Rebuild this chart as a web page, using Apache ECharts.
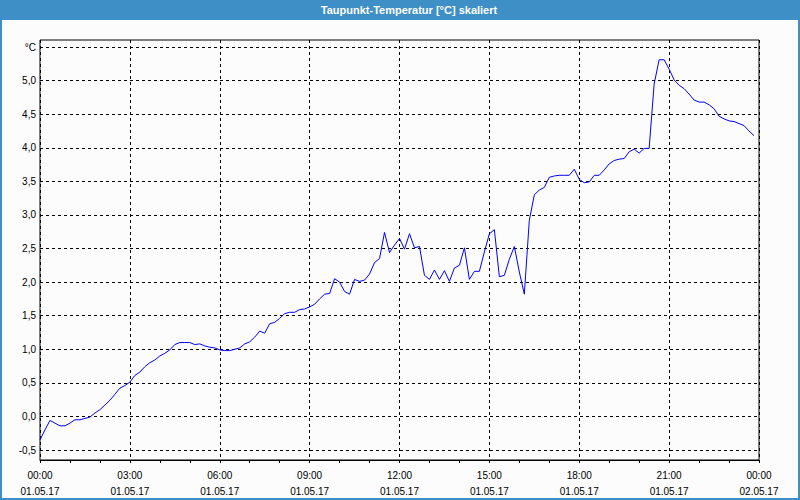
<!DOCTYPE html>
<html>
<head>
<meta charset="utf-8">
<script src="https://cdn.jsdelivr.net/npm/echarts@6.0.0/dist/echarts.min.js"></script>
<style>
html,body{margin:0;padding:0;background:#fff;}
#chart{width:800px;height:500px;}
</style>
</head>
<body>
<div id="chart"></div>
<script>
// ---- data (10-minute readings, 01.05.17 00:00 .. 23:50) ----
const stepMinutes = 10;
const dewPoint = [
  -0.35,-0.20,-0.06,-0.10,-0.14,-0.14,-0.10,-0.05,-0.05,-0.03,-0.01,0.05,
  0.10,0.17,0.24,0.33,0.42,0.46,0.51,0.61,0.66,0.74,0.80,0.84,
  0.90,0.94,0.99,1.07,1.10,1.10,1.10,1.07,1.08,1.05,1.03,1.02,
  0.99,0.98,0.98,1.00,1.02,1.08,1.11,1.18,1.27,1.24,1.38,1.40,
  1.46,1.53,1.55,1.55,1.59,1.60,1.63,1.67,1.75,1.82,1.83,2.05,
  2.00,1.86,1.82,2.04,2.01,2.03,2.12,2.29,2.35,2.74,2.44,2.55,
  2.65,2.49,2.72,2.51,2.53,2.10,2.04,2.18,2.04,2.17,2.01,2.21,
  2.25,2.51,2.04,2.16,2.16,2.45,2.72,2.78,2.08,2.10,2.34,2.53,
  2.15,1.82,2.92,3.30,3.37,3.41,3.56,3.58,3.59,3.59,3.59,3.68,
  3.53,3.48,3.49,3.59,3.59,3.67,3.76,3.81,3.83,3.84,3.94,3.98,
  3.92,3.99,3.99,4.95,5.31,5.31,5.17,5.01,4.93,4.88,4.80,4.71,
  4.68,4.68,4.64,4.58,4.47,4.43,4.40,4.39,4.36,4.33,4.25,4.18
];
const xTickTimes = ['00:00','03:00','06:00','09:00','12:00','15:00','18:00','21:00','00:00'];
const xTickDates = ['01.05.17','01.05.17','01.05.17','01.05.17','01.05.17','01.05.17','01.05.17','01.05.17','02.05.17'];
const yUnitLabel = '°C';
const titleText = 'Taupunkt-Temperatur [°C] skaliert';

// ---- build ----
const seriesData = dewPoint.map((v, i) => [i * stepMinutes, v]);
const FONT = 'Liberation Sans, Arial, sans-serif';
const dashed = {show: true, lineStyle: {color: '#000', width: 1, type: [3, 3]}};

const chart = echarts.init(document.getElementById('chart'), null, {renderer: 'svg'});
chart.setOption({
  animation: false,
  backgroundColor: '#3d8fc6',
  graphic: {elements: [
    {type: 'rect', z: -100, silent: true, shape: {x: 2, y: 20, width: 796, height: 478}, style: {fill: '#fbfcfb'}}
  ]},
  title: {
    text: titleText, left: 409, top: 4, textAlign: 'center', padding: 0,
    textStyle: {color: '#fff', fontSize: 11, fontWeight: 'bold', fontFamily: FONT}
  },
  grid: [
    {left: 40, right: 41, top: 40, height: 420, show: true, borderColor: '#000', borderWidth: 1, backgroundColor: 'transparent', containLabel: false},
    {left: 40, right: 41, top: 47, height: 403, show: false, containLabel: false}
  ],
  xAxis: [
    {
      gridIndex: 0, type: 'value', min: 0, max: 1440, interval: 180,
      axisLine: {show: true, lineStyle: {color: '#000', width: 1}},
      axisTick: {show: true, inside: false, length: 3, lineStyle: {color: '#000'}},
      minorTick: {show: true, splitNumber: 3, length: 3, lineStyle: {color: '#000'}},
      splitLine: dashed,
      axisLabel: {
        margin: 7, color: '#000', fontSize: 10, fontFamily: FONT, lineHeight: 16,
        formatter: function (v) { const i = Math.round(v / 180); return xTickTimes[i] + '\n' + xTickDates[i]; }
      }
    },
    {gridIndex: 1, type: 'value', min: 0, max: 1440, show: false}
  ],
  yAxis: [
    {gridIndex: 0, type: 'value', min: 0, max: 1, show: false},
    {
      gridIndex: 1, type: 'value', min: -0.5, max: 5.5, interval: 0.5,
      axisLine: {show: false}, axisTick: {show: false},
      splitLine: dashed,
      axisLabel: {
        margin: 4, color: '#000', fontSize: 10, fontFamily: FONT,
        formatter: function (v) { return Math.abs(v - 5.5) < 1e-6 ? yUnitLabel : v.toFixed(1).replace('.', ','); }
      }
    }
  ],
  series: [{
    type: 'line', xAxisIndex: 1, yAxisIndex: 1, data: seriesData,
    showSymbol: false, symbol: 'none', clip: false,
    lineStyle: {color: '#0000ff', width: 1}
  }]
});
</script>
</body>
</html>
